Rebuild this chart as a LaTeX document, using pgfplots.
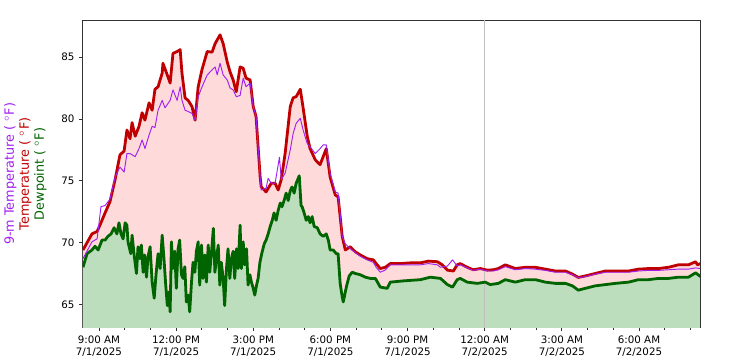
\documentclass[border=0pt]{standalone}
\usepackage{pgfplots}
\pgfplotsset{compat=1.18}
\usepackage{pgfplotstable}
\usepackage{fontspec}
\setmainfont{DejaVu Sans}
\definecolor{tred}{RGB}{192,0,0}
\definecolor{tpurp}{RGB}{160,32,240}
\definecolor{tgreen}{RGB}{0,100,0}
\definecolor{pinkfill}{RGB}{255,218,218}
\definecolor{greenfill}{RGB}{188,222,188}
\pgfplotstableread{
h T
8.38 69.4
8.73 70.7
8.93 70.9
9.04 71.4
9.24 72.4
9.43 73.3
9.63 75.1
9.82 77.1
9.98 77.4
10.09 79.1
10.21 78.4
10.29 79.7
10.41 78.6
10.56 79.4
10.68 80.5
10.79 79.9
10.95 81.3
11.07 80.7
11.18 82.4
11.30 82.6
11.46 83.7
11.49 84.5
11.65 83.6
11.77 82.9
11.88 85.3
12.04 85.45
12.16 85.6
12.23 83.7
12.35 81.7
12.47 81.5
12.62 81.0
12.74 79.9
12.86 82.6
13.01 84.0
13.21 85.45
13.40 85.4
13.52 86.1
13.71 86.8
13.83 86.1
13.99 84.6
14.10 83.8
14.22 83.15
14.34 82.2
14.49 84.2
14.61 84.1
14.72 83.3
14.88 83.15
15.00 81.0
15.11 80.2
15.27 75.3
15.31 74.5
15.50 74.1
15.70 74.8
15.85 74.8
15.97 74.25
16.09 75.1
16.24 77.2
16.44 81.0
16.55 81.7
16.67 81.8
16.83 82.4
16.94 80.9
17.10 78.6
17.21 77.6
17.41 76.7
17.60 76.3
17.72 76.95
17.84 77.6
17.99 75.3
18.19 73.85
18.30 73.7
18.46 70.5
18.58 69.4
18.77 69.66
18.97 69.25
19.16 69.0
19.43 68.7
19.67 68.6
19.78 68.3
19.94 67.9
20.13 68.0
20.33 68.3
20.72 68.3
21.11 68.36
21.50 68.36
21.81 68.5
22.16 68.45
22.35 68.2
22.55 67.77
22.78 67.7
22.93 68.2
23.05 68.3
23.32 68.0
23.56 67.8
23.83 67.9
24.10 67.77
24.34 67.8
24.53 67.9
24.80 68.2
25.19 67.9
25.58 68.0
25.97 68.0
26.36 67.85
26.75 67.7
27.14 67.7
27.41 67.45
27.64 67.18
27.91 67.3
28.30 67.5
28.69 67.7
29.08 67.7
29.59 67.7
29.98 67.85
30.37 67.9
30.76 67.9
31.14 68.0
31.53 68.2
31.92 68.2
32.20 68.45
32.27 68.2
32.39 68.3
}\temptable
\pgfplotstableread{
h T
8.38 68.7
8.73 70.06
8.93 70.3
9.08 72.9
9.24 73.0
9.43 73.5
9.63 75.3
9.82 76.1
9.98 75.7
10.09 77.2
10.21 77.2
10.41 76.95
10.56 77.6
10.68 78.3
10.79 77.6
10.95 78.7
11.07 79.4
11.18 79.3
11.30 80.7
11.46 81.5
11.57 80.9
11.77 81.5
11.88 82.35
12.04 81.5
12.16 82.6
12.23 81.5
12.35 80.7
12.47 80.6
12.62 80.45
12.74 79.9
12.86 81.8
13.01 82.6
13.21 83.55
13.40 83.97
13.52 84.2
13.60 83.56
13.71 84.5
13.83 83.56
13.99 83.15
14.10 82.5
14.22 82.35
14.34 81.8
14.49 81.9
14.61 83.3
14.72 82.6
14.88 82.9
15.00 81.0
15.11 80.2
15.27 75.3
15.31 74.25
15.50 74.4
15.58 75.2
15.70 74.8
15.85 74.8
16.02 76.9
16.09 75.1
16.24 75.6
16.44 77.5
16.55 78.8
16.67 79.65
16.83 80.05
16.94 79.1
17.10 78.0
17.21 77.75
17.41 77.2
17.60 77.6
17.72 77.9
17.84 77.9
17.99 75.6
18.19 74.1
18.30 74.0
18.46 70.5
18.58 69.9
18.77 69.5
18.97 69.2
19.16 68.9
19.43 68.6
19.67 68.4
19.78 68.0
19.94 67.6
20.13 67.77
20.33 68.2
20.72 68.2
21.50 68.2
21.81 68.3
22.16 68.2
22.28 68.0
22.55 68.1
22.75 68.6
22.93 68.1
23.05 68.2
23.32 67.95
23.56 67.75
23.83 67.85
24.10 67.7
24.34 67.7
24.53 67.8
24.80 68.05
25.19 67.8
25.58 67.9
25.97 67.85
26.36 67.75
26.75 67.6
27.14 67.6
27.41 67.4
27.64 67.15
27.91 67.25
28.30 67.45
28.69 67.6
29.08 67.6
29.59 67.6
29.98 67.7
30.37 67.75
30.76 67.75
31.14 67.8
31.53 67.85
31.92 67.85
32.20 67.95
32.39 67.9
}\ninemtable
\pgfplotstableread{
h D
8.38 68.0
8.54 69.1
8.73 69.4
8.85 69.7
8.97 69.4
9.12 70.2
9.24 70.2
9.35 70.5
9.47 70.7
9.59 71.2
9.70 70.7
9.78 71.6
9.86 70.7
9.94 70.3
10.02 71.6
10.09 71.4
10.13 70.06
10.24 69.1
10.29 70.6
10.37 69.0
10.46 67.5
10.52 69.66
10.59 68.7
10.65 69.8
10.72 67.6
10.78 69.0
10.85 67.2
10.91 68.85
10.99 69.66
11.07 66.8
11.15 65.5
11.22 67.4
11.30 69.1
11.38 67.9
11.46 70.6
11.53 68.7
11.59 66.8
11.66 64.9
11.72 66.0
11.77 64.4
11.82 70.06
11.88 67.9
11.95 69.3
12.01 66.3
12.08 69.5
12.14 70.2
12.21 67.4
12.27 67.1
12.34 68.05
12.40 65.2
12.47 65.75
12.53 64.4
12.60 66.8
12.66 68.4
12.73 67.6
12.79 69.3
12.86 70.06
12.92 66.56
12.99 69.8
13.05 67.1
13.12 69.0
13.18 66.8
13.25 69.8
13.31 67.6
13.38 69.3
13.45 71.15
13.51 67.6
13.57 68.7
13.64 69.8
13.70 66.56
13.76 68.4
13.83 67.1
13.89 64.9
13.96 67.9
14.02 69.5
14.09 67.1
14.15 68.7
14.22 69.3
14.28 67.1
14.35 69.5
14.41 67.9
14.49 71.4
14.54 67.9
14.61 70.06
14.67 68.2
14.74 69.5
14.80 66.56
14.87 67.4
14.93 66.8
15.00 66.3
15.06 65.75
15.13 66.56
15.19 67.1
15.26 68.4
15.32 69.0
15.39 69.6
15.43 69.9
15.50 70.2
15.58 70.7
15.66 71.3
15.74 71.8
15.81 72.4
15.89 71.8
15.97 72.6
16.05 73.2
16.12 72.9
16.20 73.4
16.28 74.0
16.36 73.4
16.44 74.2
16.51 74.5
16.59 74.0
16.67 74.8
16.79 75.4
16.86 73.0
16.90 72.9
16.98 72.4
17.06 71.8
17.14 72.1
17.21 71.6
17.29 72.1
17.37 71.3
17.49 71.2
17.60 70.7
17.72 70.5
17.84 70.7
17.92 70.2
17.99 69.4
18.11 69.4
18.23 69.1
18.30 69.1
18.38 66.7
18.46 65.6
18.50 65.2
18.62 66.4
18.73 67.3
18.85 67.6
18.97 67.5
19.16 67.4
19.36 67.2
19.55 67.1
19.75 67.1
19.94 66.4
20.21 66.3
20.33 66.8
20.83 66.9
21.50 67.0
21.89 67.2
22.28 67.1
22.55 66.6
22.75 66.4
22.93 67.0
23.05 67.1
23.32 66.8
23.71 66.7
24.02 66.8
24.21 66.6
24.53 66.7
24.80 67.0
25.19 66.8
25.58 67.0
25.97 67.0
26.36 66.8
26.75 66.7
27.14 66.7
27.41 66.5
27.64 66.15
27.91 66.3
28.30 66.5
28.69 66.6
29.08 66.7
29.59 66.8
29.98 67.0
30.37 67.0
30.76 67.1
31.14 67.1
31.53 67.2
31.92 67.2
32.20 67.55
32.39 67.25
}\dewtable
\begin{document}
\begin{tikzpicture}
\begin{axis}[
  scale only axis,
  width=462.75pt, height=230.8pt,
  xmin=8.37, xmax=32.37,
  ymin=63.1, ymax=88.0,
  axis line style={black!80, line width=0.6pt},
  tick style={black!80, line width=0.6pt},
  tick align=outside,
  tick pos=left,
  major tick length=2.6pt,
  minor tick length=1.5pt,
  xtick={9,12,15,18,21,24,27,30},
  xticklabels={9:00 AM\\7/1/2025,12:00 PM\\7/1/2025,3:00 PM\\7/1/2025,6:00 PM\\7/1/2025,9:00 PM\\7/1/2025,12:00 AM\\7/2/2025,3:00 AM\\7/2/2025,6:00 AM\\7/2/2025},
  minor xtick={10,11,13,14,16,17,19,20,22,23,25,26,28,29,31,32},
  xticklabel style={align=center, font=\fontsize{7.7}{9}\selectfont},
  ytick={65,70,75,80,85},
  yticklabel style={font=\fontsize{7.7}{9}\selectfont},
  /pgf/number format/assume math mode=true,
  ylabel={\textcolor{tpurp}{9-m Temperature ( $^\circ$F)}\\\textcolor{tred}{Temperature ( $^\circ$F)}\\\textcolor{tgreen}{Dewpoint ( $^\circ$F)}},
  ylabel style={align=center, font=\fontsize{9.6}{11.2}\selectfont, at={(axis description cs:-0.051,0.5)}, anchor=south},
  clip=true,
]
\addplot[fill=pinkfill, draw=none] table[x=h,y=T] {\temptable} \closedcycle;
\addplot[fill=greenfill, draw=none] table[x=h,y=D] {\dewtable} \closedcycle;
\addplot[color=black!25, line width=1.1pt] coordinates {(24,60) (24,90)};
\addplot[color=tgreen, line width=2.1pt, line join=round] table[x=h,y=D] {\dewtable};
\addplot[color=tred, line width=2.1pt, line join=round] table[x=h,y=T] {\temptable};
\addplot[color=tpurp, line width=0.7pt, line join=round] table[x=h,y=T] {\ninemtable};
\end{axis}
\pgfresetboundingbox
\path (-62pt,-24.2pt) rectangle (489pt,245.8pt);
\end{tikzpicture}
\end{document}
